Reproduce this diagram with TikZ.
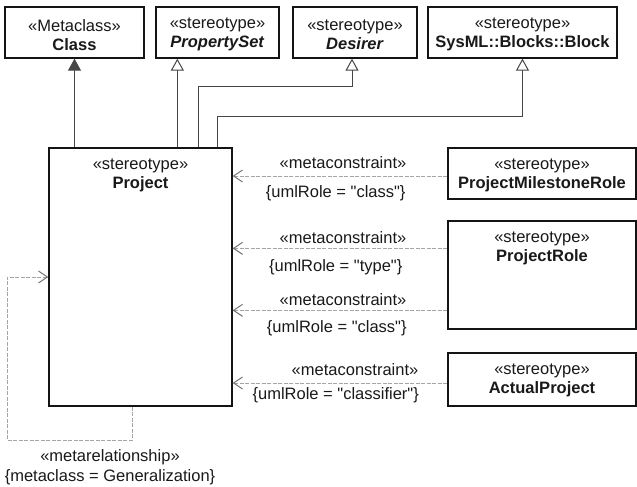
\documentclass[tikz,border=0pt]{standalone}
\usepackage{fontspec}
\setmainfont{Liberation Sans}
\usetikzlibrary{arrows.meta}
\definecolor{boxline}{RGB}{20,20,20}
\definecolor{genline}{RGB}{70,70,70}
\definecolor{constrgray}{RGB}{165,165,165}
\definecolor{tipgray}{RGB}{115,115,115}
\definecolor{labeldark}{RGB}{25,25,25}

\tikzset{
  umlbox/.style={draw=boxline, line width=1.3pt, fill=white, rectangle, inner sep=0pt},
  boxtitle/.style={align=center, text=labeldark, inner sep=0pt,
    font=\fontsize{16.5}{19}\selectfont},
  edgelbl/.style={align=center, text=labeldark, inner sep=0pt,
    font=\fontsize{16.5}{20}\selectfont},
  genarrow/.style={draw=genline, line width=1pt,
    -{Triangle[length=12pt, width=13pt, fill=white]}},
  metaarrow/.style={draw=constrgray, line width=1pt, dash pattern=on 4pt off 1.5pt,
    -{Straight Barb[length=9pt, width=12pt, color=tipgray]}},
}

\begin{document}
\begin{tikzpicture}[x=1pt,y=-1pt]
  \useasboundingbox (0,0) rectangle (637,487);

  % --- Top row: metaclass and parent stereotypes ---
  \node[umlbox, minimum width=139pt, minimum height=51pt] (cls) at (74.5,32.5) {};
  \node[boxtitle] (cls-t) at ([yshift=-28.5pt]cls.north) {«Metaclass»\\\textbf{Class}};

  \node[umlbox, minimum width=123pt, minimum height=51pt] (pset) at (217.5,32.5) {};
  \node[boxtitle] (pset-t) at ([yshift=-28.5pt]pset.north) {«stereotype»\\\textbf{\textit{PropertySet}}};

  \node[umlbox, minimum width=124pt, minimum height=51pt] (desirer) at (355,32.5) {};
  \node[boxtitle] (desirer-t) at ([yshift=-28.5pt]desirer.north) {«stereotype»\\\textbf{\textit{Desirer}}};

  \node[umlbox, minimum width=189pt, minimum height=51pt] (block) at (522.5,32.5) {};
  \node[boxtitle] (block-t) at ([yshift=-28.5pt]block.north) {«stereotype»\\\textbf{SysML::Blocks::Block}};

  % --- Main stereotype ---
  \node[umlbox, minimum width=183pt, minimum height=258pt] (project) at (140.5,277) {};
  \node[boxtitle] (project-t) at ([yshift=-28.5pt]project.north) {«stereotype»\\\textbf{Project}};

  % --- Right column ---
  \node[umlbox, minimum width=188pt, minimum height=51pt] (pmr) at (542,173.5) {};
  \node[boxtitle] (pmr-t) at ([yshift=-28.5pt]pmr.north) {«stereotype»\\\textbf{ProjectMilestoneRole}};

  \node[umlbox, minimum width=188pt, minimum height=108pt] (prole) at (542,275) {};
  \node[boxtitle] (prole-t) at ([yshift=-28.5pt]prole.north) {«stereotype»\\\textbf{ProjectRole}};

  \node[umlbox, minimum width=188pt, minimum height=53pt] (actual) at (542,379.5) {};
  \node[boxtitle] (actual-t) at ([yshift=-28.5pt]actual.north) {«stereotype»\\\textbf{ActualProject}};

  % --- Generalizations / extension ---
  \draw[draw=genline, line width=1pt, -{Triangle[length=12pt, width=13pt]}, genline]
    (cls.south |- project.north) -- (cls.south);

  \coordinate (pset-in) at ([xshift=129pt]project.north west);
  \draw[genarrow] (pset-in) -- (pset-in |- pset.south);

  \coordinate (desirer-in) at ([xshift=150pt]project.north west);
  \draw[genarrow] (desirer-in) |- ([xshift=-3pt,yshift=-28pt]desirer.south)
    -- ([xshift=-3pt]desirer.south);

  \coordinate (block-in) at ([xshift=169pt]project.north west);
  \draw[genarrow] (block-in) |- ([yshift=-58pt]block.south) -- (block.south);

  % --- Metaconstraints ---
  \draw[metaarrow] ([yshift=-2.5pt]pmr.west) -- ([yshift=-2.5pt]pmr.west -| project.east)
    node[edgelbl, pos=0.486, yshift=13pt] (mc1) {«metaconstraint»}
    node[edgelbl, pos=0.52, yshift=-17pt] (role1) {\{umlRole = \textquotedbl class\textquotedbl\}};

  \draw[metaarrow] ([yshift=-28pt]prole.north west) -- ([yshift=-28pt]prole.north west -| project.east)
    node[edgelbl, pos=0.486, yshift=11pt] (mc2) {«metaconstraint»}
    node[edgelbl, pos=0.52, yshift=-19pt] (role2) {\{umlRole = \textquotedbl type\textquotedbl\}};

  \draw[metaarrow] ([yshift=-90pt]prole.north west) -- ([yshift=-90pt]prole.north west -| project.east)
    node[edgelbl, pos=0.486, yshift=11pt] (mc3) {«metaconstraint»}
    node[edgelbl, pos=0.515, yshift=-18pt] (role3) {\{umlRole = \textquotedbl class\textquotedbl\}};

  \draw[metaarrow] ([yshift=-3.5pt]actual.west) -- ([yshift=-3.5pt]actual.west -| project.east)
    node[edgelbl, pos=0.43, yshift=13pt] (mc4) {«metaconstraint»}
    node[edgelbl, pos=0.52, yshift=-12pt] (role4) {\{umlRole = \textquotedbl classifier\textquotedbl\}};

  % --- Metarelationship loop ---
  \coordinate (loop-out) at ([xshift=84pt]project.south west);
  \coordinate (loop-corner) at (7,440);
  \draw[metaarrow] (loop-out) |- (loop-corner) |- (project.west);
  \node[edgelbl] (metarel) at (110,467) {«metarelationship»\\\{metaclass = Generalization\}};

\end{tikzpicture}
\end{document}
